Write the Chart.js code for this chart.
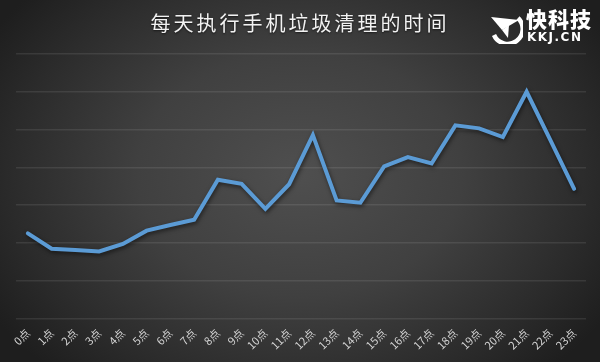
<!DOCTYPE html>
<html>
<head>
<meta charset="utf-8">
<script src="https://cdn.jsdelivr.net/npm/chart.js@4"></script>
<style>
  html, body { margin: 0; padding: 0; }
  #wrap {
    position: relative; width: 600px; height: 362px; overflow: hidden;
    background: radial-gradient(ellipse 60% 75% at 50% 48%, #4f4f4f 0%, #404040 45%, #2b2b2b 80%, #1e1e1e 100%);
  }
  #c { position: absolute; left: 0; top: 0; }
  #title {
    position: absolute; left: 0; width: 600px; top: 10px; text-align: center;
    font-family: "Noto Sans CJK SC", sans-serif; font-size: 20px; letter-spacing: 3px;
    color: #f2f2f2; line-height: 26px; text-shadow: 0 1px 2px rgba(0,0,0,0.6);
  }
  #logo { position: absolute; left: 488px; top: 8px; width: 112px; height: 40px; }
  #logo svg { position: absolute; left: 1px; top: 2px; }
  #logo .cn { position: absolute; left: 38px; top: -2px; font-family: "Noto Sans CJK SC", sans-serif;
    font-weight: 900; font-size: 21px; color: #fff; line-height: 24px; letter-spacing: 1px; }
  #logo .en { position: absolute; left: 39px; top: 22px; font-family: "DejaVu Sans", sans-serif;
    font-weight: bold; font-size: 12px; color: #fff; line-height: 14px; letter-spacing: 1.5px; }
</style>
</head>
<body>
<div id="wrap">
  <canvas id="c" width="600" height="362"></canvas>
  <div id="title">每天执行手机垃圾清理的时间</div>
  <div id="logo">
    <svg width="34" height="34" viewBox="0 0 34 34">
      <path d="M29 8 A15 15 0 1 1 5 25" fill="none" stroke="#ffffff" stroke-width="4.5"/>
      <path d="M2 7 L30 10 L13 20 Z" fill="#ffffff"/>
      <path d="M13 20 L19 28 L20 15 Z" fill="#ffffff"/>
    </svg>
    <div class="cn">快科技</div>
    <div class="en">KKJ.CN</div>
  </div>
</div>
<script>
const hours = ["0点","1点","2点","3点","4点","5点","6点","7点","8点","9点","10点","11点","12点","13点","14点","15点","16点","17点","18点","19点","20点","21点","22点","23点"];
const usage = [2.25,1.84,1.81,1.77,1.97,2.32,2.47,2.61,3.67,3.56,2.90,3.55,4.85,3.12,3.06,4.02,4.27,4.10,5.11,5.03,4.80,6.00,4.72,3.43];
const yMin = 0, yMax = 7, yStep = 1;

const shadowPlugin = {
  id: 'lineShadow',
  beforeDatasetsDraw(chart) {
    const ctx = chart.ctx; ctx.save();
    ctx.shadowColor = 'rgba(0,0,0,0.55)'; ctx.shadowBlur = 4; ctx.shadowOffsetX = 1; ctx.shadowOffsetY = 2;
  },
  afterDatasetsDraw(chart) { chart.ctx.restore(); }
};

new Chart(document.getElementById('c'), {
  type: 'line',
  data: { labels: hours, datasets: [{
    data: usage, borderColor: '#5b9bd5', borderWidth: 4, pointRadius: 0,
    tension: 0, fill: false, borderJoinStyle: 'miter', borderCapStyle: 'round'
  }]},
  options: {
    responsive: false, animation: false,
    layout: { padding: { left: 16, right: 14, top: 54, bottom: 2 } },
    plugins: { legend: { display: false }, tooltip: { enabled: false } },
    scales: {
      x: {
        offset: true,
        grid: { display: false, drawTicks: false },
        border: { display: false },
        ticks: { color: '#d4d4d4', font: { family: '"Noto Sans CJK SC", sans-serif', size: 11 },
          minRotation: 45, maxRotation: 45, padding: 8, autoSkip: false }
      },
      y: {
        min: yMin, max: yMax,
        grid: { color: 'rgba(255,255,255,0.09)', lineWidth: 1.5, drawTicks: false },
        border: { display: false },
        ticks: { display: false, stepSize: yStep }
      }
    }
  },
  plugins: [shadowPlugin]
});
</script>
</body>
</html>
